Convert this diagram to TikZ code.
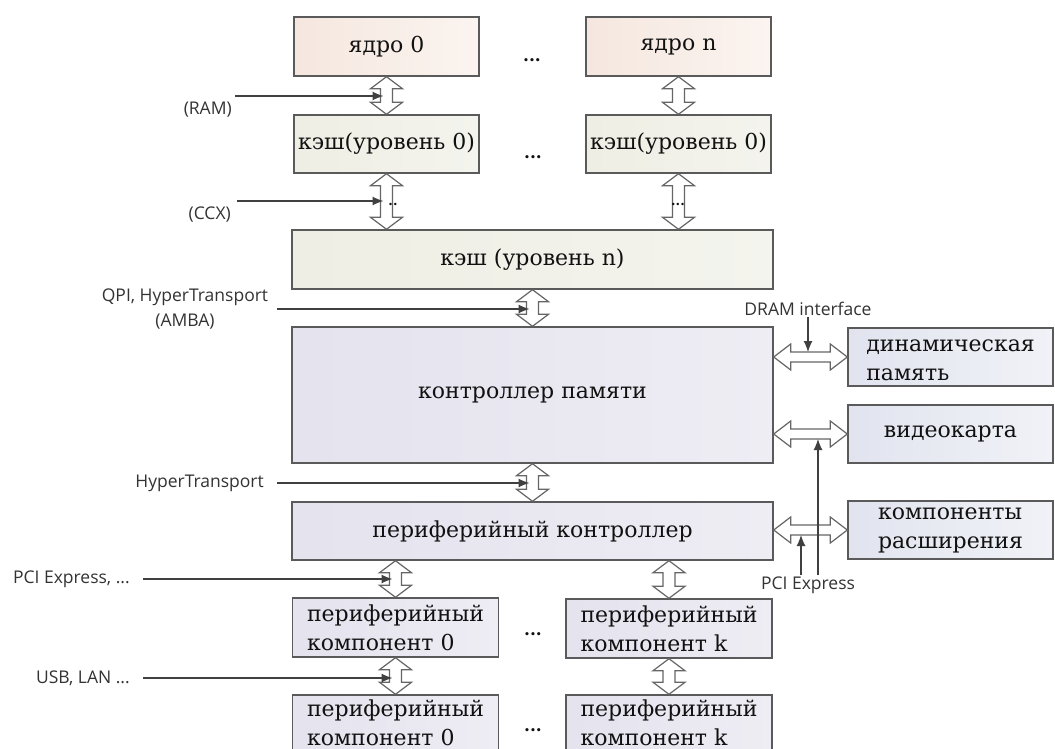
\documentclass[tikz,border=0pt]{standalone}
\usepackage{fontspec}
\setmainfont{DejaVu Serif}
\newfontfamily\lblfont{Open Sans}
\usetikzlibrary{arrows.meta,calc}
\definecolor{boxline}{HTML}{5A5A5A}
\definecolor{txt}{HTML}{111111}
\definecolor{lbltxt}{HTML}{333333}
\definecolor{annline}{HTML}{404040}
\definecolor{harrowline}{HTML}{666666}
\definecolor{coreA}{HTML}{F5E7DF}
\definecolor{coreB}{HTML}{FBF4F0}
\definecolor{cacheA}{HTML}{EEEEE4}
\definecolor{cacheB}{HTML}{F4F4EE}
\definecolor{memA}{HTML}{E4E3EE}
\definecolor{memB}{HTML}{EEEDF4}
\definecolor{sideA}{HTML}{E1E4EF}
\definecolor{sideB}{HTML}{F1F2F7}
\newcommand\boxfont{\fontsize{22}{29}\selectfont}
\newcommand\dotsfont{\fontsize{17}{18}\selectfont\bfseries}
\newcommand\annfont{\lblfont\fontsize{17.5}{25}\selectfont}
% hollow double arrows
\newcommand\hv[2]{\draw[hollow] let \p1=(#1), \p2=(#2) in
  (\x1,\y1) -- (\x1+16pt,\y1-12pt) -- (\x1+6pt,\y1-12pt) -- (\x1+6pt,\y2+12pt)
  -- (\x1+16pt,\y2+12pt) -- (\x1,\y2) -- (\x1-16pt,\y2+12pt) -- (\x1-6pt,\y2+12pt)
  -- (\x1-6pt,\y1-12pt) -- (\x1-16pt,\y1-12pt) -- cycle;}
\newcommand\hh[2]{\draw[hollow] let \p1=(#1), \p2=(#2) in
  (\x1,\y1) -- (\x1+17pt,\y1+13pt) -- (\x1+17pt,\y1+5pt) -- (\x2-17pt,\y1+5pt)
  -- (\x2-17pt,\y1+13pt) -- (\x2,\y1) -- (\x2-17pt,\y1-13pt) -- (\x2-17pt,\y1-5pt)
  -- (\x1+17pt,\y1-5pt) -- (\x1+17pt,\y1-13pt) -- cycle;}
\tikzset{
  box/.style={draw=boxline, line width=1.4pt, inner sep=0pt, font=\boxfont, text=txt, align=center},
  corebox/.style={box, left color=coreA, right color=coreB},
  cachebox/.style={box, left color=cacheA, right color=cacheB},
  membox/.style={box, left color=memA, right color=memB},
  sidebox/.style={box, left color=sideA, right color=sideB, align=left},
  perbox/.style={box, left color=memA, right color=memB, align=left},
  small/.style={minimum width=185pt, minimum height=59pt},
  wide/.style={minimum width=481pt, minimum height=59pt},
  side/.style={minimum width=205pt, minimum height=58pt},
  comp/.style={minimum width=206pt, minimum height=59pt},
  hollow/.style={draw=harrowline, fill=white, line width=1.2pt, line join=miter},
  ann/.style={draw=annline, line width=1.2pt, -{Latex[length=11pt,width=9pt]}},
  lbl/.style={font=\annfont, text=lbltxt, inner sep=1pt},
  ell/.style={font=\dotsfont, text=txt, inner sep=0pt}
}
\begin{document}
\begin{tikzpicture}[x=1pt,y=-1pt]
\useasboundingbox (0,0) rectangle (1055,749);
\fill[white] (0,0) rectangle (1055,749);
\clip (0,0) rectangle (1055,749);

% boxes
\node[corebox, small] (core0) at (386.5,46.5) {ядро 0};
\node[corebox, small] (coren) at (678.5,46.5) {ядро n};
\node[cachebox, small, minimum height=58pt] (c0L) at (386.5,144) {кэш(уровень 0)};
\node[cachebox, small, minimum height=58pt] (c0R) at (678.5,144) {кэш(уровень 0)};
\node[cachebox, wide] (cn) at (532.5,259.5) {кэш (уровень n)};
\node[membox, minimum width=481pt, minimum height=136pt] (mem) at (532.5,395) {контроллер памяти};
\node[sidebox, side] (dram) at (950.5,357)
  {\raisebox{-3pt}[\height][\depth]{\begin{tabular}{@{}l@{}}динамическая\\память\end{tabular}}};
\node[sidebox, side, align=center] (video) at (950.5,434) {видеокарта};
\node[sidebox, side] (ext) at (950.5,530) {компоненты\\расширения};
\node[membox, wide, minimum height=58pt] (pctrl) at (532.5,531) {периферийный контроллер};
\node[perbox, comp] (pc0) at (395.5,627.5) {периферийный\\компонент 0};
\node[perbox, comp] (pck) at (669,628.5) {периферийный\\компонент k};
\node[perbox, comp, minimum height=56pt] (pc0b) at (395.5,723) {периферийный\\компонент 0};
\node[perbox, comp, minimum height=56pt] (pckb) at (669,723) {периферийный\\компонент k};

% ellipses between columns
\node[ell] (e1) at (532,60) {...};
\node[ell] (e2) at (533,157) {...};
\node[ell] (e3) at (533,634) {...};
\node[ell] (e4) at (533,730) {...};

% hollow vertical arrows
\hv{core0.south}{core0.south |- c0L.north}
\hv{coren.south}{coren.south |- c0R.north}
\hv{c0L.south}{c0L.south |- cn.north}
\hv{c0R.south}{c0R.south |- cn.north}
\hv{cn.south}{mem.north}
\hv{mem.south}{pctrl.north}
\hv{pc0.north |- pctrl.south}{pc0.north}
\hv{pck.north |- pctrl.south}{pck.north}
\hv{pc0.south}{pc0.south |- pc0b.north}
\hv{pck.south}{pck.south |- pckb.north}
% dots on the long arrows
\node[ell, font=\fontsize{13}{14}\selectfont\bfseries] (e5) at (393,204) {..};
\node[ell, font=\fontsize{13}{14}\selectfont\bfseries] (e6) at (678,204) {...};

% hollow horizontal arrows
\hh{mem.east |- dram.west}{dram.west}
\hh{mem.east |- video.west}{video.west}
\hh{pctrl.east |- ext.west}{ext.west}

% left annotations
\node[lbl, anchor=east] (ramL) at (233,110) {(RAM)};
\coordinate (ramS) at (235,96);
\draw[ann] (ramS) -- ($(ramS -| core0.south)+(-3,0)$);

\node[lbl, anchor=east] (ccxL) at (232,215) {(CCX)};
\coordinate (ccxS) at (237,201);
\draw[ann] (ccxS) -- ($(ccxS -| c0L.south)+(-3,0)$);

\node[lbl, align=center] (qpiL) at (185,309.5) {QPI, HyperTransport\\(AMBA)};
\coordinate (qpiS) at (277,309);
\draw[ann] (qpiS) -- ($(qpiS -| cn.south)+(-3,0)$);

\node[lbl, anchor=east] (htL) at (265,483) {HyperTransport};
\coordinate (htS) at (277,483);
\draw[ann] (htS) -- ($(htS -| mem.south)+(-3,0)$);

\node[lbl, anchor=east] (pcieL) at (131,579) {PCI Express, ...};
\coordinate (pcieS) at (143,579);
\draw[ann] (pcieS) -- ($(pcieS -| pc0.north)+(-3,0)$);

\node[lbl, anchor=east] (usbL) at (131,678) {USB, LAN ...};
\coordinate (usbS) at (143,678);
\draw[ann] (usbS) -- ($(usbS -| pc0b.north)+(-3,0)$);

% right annotations
\node[lbl] (dramL) at (808,309) {DRAM interface};
\draw[ann] (dramL.south) -- ($(dramL.south |- dram.west)+(0,-5)$);

\node[lbl] (pciL) at (808,585) {PCI Express};
\coordinate (pA) at ([xshift=-7pt]pciL.north);
\coordinate (pB) at ([xshift=10pt]pciL.north);
\draw[ann] (pA) -- ($(pA |- ext.west)+(0,5)$);
\draw[ann] (pB) -- ($(pB |- video.west)+(0,5)$);
\end{tikzpicture}
\end{document}
